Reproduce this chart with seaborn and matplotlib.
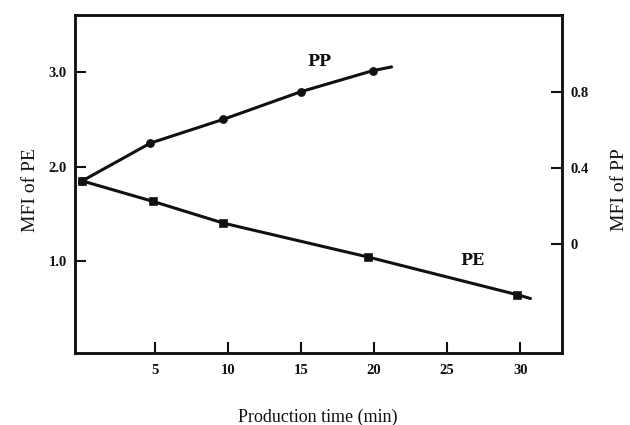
import numpy as np
import pandas as pd
import matplotlib
matplotlib.use("Agg")
import matplotlib.pyplot as plt
import seaborn as sns

# ---- data ----
time_ticks = [5, 10, 15, 20, 25, 30]
time_tick_labels = ["5", "10", "15", "20", "25", "30"]
pe_ticks = [1.0, 2.0, 3.0]
pe_tick_labels = ["1.0", "2.0", "3.0"]
pp_ticks = [0.0, 0.4, 0.8]
pp_tick_labels = ["0", "0.4", "0.8"]

# PE (left axis) measured points and the drawn line
pe_time = [0, 4.9, 9.7, 19.6, 29.8]
pe_mfi = [1.85, 1.63, 1.40, 1.04, 0.64]
pe_line_time = [0, 4.9, 9.7, 19.6, 29.8, 30.7]
pe_line_mfi = [1.85, 1.63, 1.40, 1.04, 0.64, 0.60]

# PP (right axis) measured points and the drawn line
pp_time = [0, 4.7, 9.7, 15.0, 19.9]
pp_mfi = [0.33, 0.53, 0.655, 0.80, 0.91]
pp_line_time = [0, 4.7, 9.7, 15.0, 19.9, 21.2]
pp_line_mfi = [0.33, 0.53, 0.655, 0.80, 0.91, 0.93]

x_label = "Production time (min)"
pe_label = "MFI of PE"
pp_label = "MFI of PP"

# ---- figure ----
sns.set_style("ticks")
plt.rcParams["font.family"] = ["Liberation Serif", "DejaVu Serif"]

fig = plt.figure(figsize=(6.3, 4.25), dpi=100)
ax = fig.add_axes([0.119, 0.169, 0.773, 0.796])
ax2 = ax.twinx()

ink = "#111111"

pe_line = pd.DataFrame({"t": pe_line_time, "m": pe_line_mfi})
pe_pts = pd.DataFrame({"t": pe_time, "m": pe_mfi})
pp_line = pd.DataFrame({"t": pp_line_time, "m": pp_line_mfi})
pp_pts = pd.DataFrame({"t": pp_time, "m": pp_mfi})

sns.lineplot(data=pe_line, x="t", y="m", ax=ax, color=ink, lw=2.2,
             sort=False, estimator=None)
sns.scatterplot(data=pe_pts, x="t", y="m", ax=ax, color=ink, marker="s",
                s=30, edgecolor=ink, zorder=5)
sns.lineplot(data=pp_line, x="t", y="m", ax=ax2, color=ink, lw=2.2,
             sort=False, estimator=None)
sns.scatterplot(data=pp_pts, x="t", y="m", ax=ax2, color=ink, marker="o",
                s=34, edgecolor=ink, zorder=5)

ax.set_xlim(-0.45, 32.85)
ax.set_ylim(0.02, 3.61)
ax2.set_ylim(-0.572, 1.203)

ax.set_xticks(time_ticks)
ax.set_xticklabels(time_tick_labels)
ax.set_yticks(pe_ticks)
ax.set_yticklabels(pe_tick_labels)
ax2.set_yticks(pp_ticks)
ax2.set_yticklabels(pp_tick_labels)

for a in (ax, ax2):
    for sp in a.spines.values():
        sp.set_visible(True)
        sp.set_linewidth(1.8)
        sp.set_color(ink)

ax.tick_params(axis="x", direction="in", length=8, width=1.5, pad=8,
               labelsize=10.5, colors=ink)
ax.tick_params(axis="y", direction="in", length=8, width=1.5, pad=6,
               labelsize=10.5, colors=ink)
ax2.tick_params(axis="y", direction="in", length=8, width=1.5, pad=6,
                labelsize=10.5, colors=ink)
for lab in ax.get_xticklabels() + ax.get_yticklabels() + ax2.get_yticklabels():
    lab.set_fontweight("bold")

ax.set_xlabel(x_label, fontsize=13, color=ink)
ax.set_ylabel(pe_label, fontsize=14, color=ink, va="center")
ax2.set_ylabel(pp_label, fontsize=14, color=ink, va="center", rotation=90)
ax.xaxis.set_label_coords(0.499, -0.163)
ax.yaxis.set_label_coords(-0.092, 0.482)
ax2.yaxis.set_label_coords(1.119, 0.482)

ax.text(16.25, 3.11, "PP", fontsize=11.5, fontweight="bold", color=ink,
        family=["DejaVu Serif"], ha="center", va="center")
ax.text(26.7, 1.0, "PE", fontsize=11.5, fontweight="bold", color=ink,
        family=["DejaVu Serif"], ha="center", va="center")

fig.savefig("out.png", dpi=100)
